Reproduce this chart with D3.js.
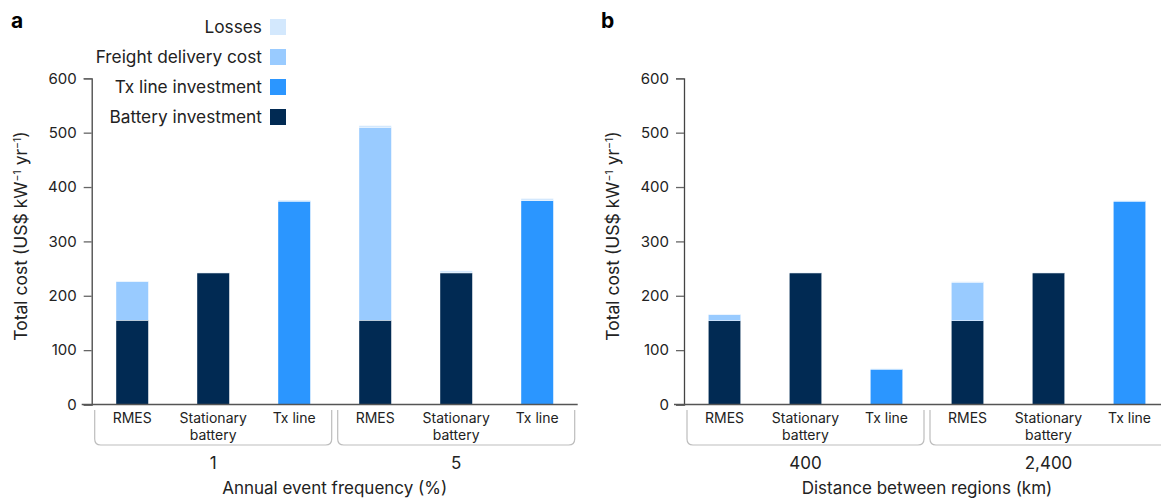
<!DOCTYPE html>
<html><head><meta charset="utf-8">
<script src="https://cdn.jsdelivr.net/npm/d3@7"></script>
<style>
html,body{margin:0;padding:0;background:#fff;}
svg{display:block;font-family:Inter,"Liberation Sans",Arial,sans-serif;}
</style></head>
<body><svg id="c" width="1161" height="499"></svg>
<script>
// ---- data ----
const categories = ["RMES", "Stationary battery", "Tx line"];
const groupsA = ["1", "5"];
const groupsB = ["400", "2,400"];
const seriesKeys = ["battery", "tx", "freight", "losses"];
const seriesNames = ["Battery investment", "Tx line investment", "Freight delivery cost", "Losses"];
const seriesColors = ["#012a53", "#2b96ff", "#99cbff", "#d3e8fd"];
const batteryA = [155, 242, 0, 155, 242, 0];
const txA      = [0, 0, 374, 0, 0, 375];
const freightA = [71, 0, 0, 355, 0, 0];
const lossesA  = [1, 1, 2, 3, 4, 4];
const batteryB = [154, 242, 0, 154, 242, 0];
const txB      = [0, 0, 65, 0, 0, 374];
const freightB = [11, 0, 0, 71, 0, 0];
const lossesB  = [1, 1, 1, 1, 1, 1];
const yTicks = [0, 100, 200, 300, 400, 500, 600];

const FONT = "Inter,'Liberation Sans',Arial,sans-serif";
const svg = d3.select("#c");
const y = d3.scaleLinear().domain([0, 600]).range([404.5, 78.3]);

function rows(groups, bat, tx, fr, lo) {
  const out = [];
  groups.forEach((g, gi) => categories.forEach((c, ci) => {
    const i = gi * 3 + ci;
    out.push({id: g + "|" + c, group: g, cat: c, battery: bat[i], tx: tx[i], freight: fr[i], losses: lo[i]});
  }));
  return out;
}

function panel(x0, groups, data, xTitle, letter, letterX) {
  const g = svg.append("g");
  const x = d3.scaleBand().domain(data.map(d => d.id)).range([x0, x0 + 486]).paddingInner(0.6).paddingOuter(0.3);
  const stack = d3.stack().keys(seriesKeys)(data);
  stack.forEach((s, si) => {
    g.append("g").selectAll("rect").data(s).join("rect")
      .attr("x", d => x(d.data.id))
      .attr("width", x.bandwidth())
      .attr("y", d => y(d[1]))
      .attr("height", d => Math.max(0, y(d[0]) - y(d[1])))
      .attr("fill", seriesColors[si])
      .attr("stroke", d => (d[1] - d[0]) > 0 ? "#ffffff" : "none")
      .attr("stroke-width", 0.4);
  });
  // y axis
  const ya = g.append("g").attr("transform", `translate(${x0},0)`)
    .call(d3.axisLeft(y).tickValues(yTicks).tickSize(8).tickPadding(7));
  ya.select(".domain").attr("stroke", "#444").attr("stroke-width", 1.3);
  ya.selectAll(".tick line").attr("stroke", "#666").attr("stroke-width", 1.3);
  ya.selectAll(".tick text").attr("font-size", 15).attr("fill", "#222").attr("font-family", FONT);
  // x axis line
  g.append("line").attr("x1", x0 - 10).attr("x2", x0 + 486).attr("y1", 404.5).attr("y2", 404.5)
    .attr("stroke", "#555").attr("stroke-width", 1.5);
  // category labels
  data.forEach(d => {
    const cx = x(d.id) + x.bandwidth() / 2;
    const words = d.cat === "Stationary battery" ? ["Stationary", "battery"] : [d.cat];
    const t = g.append("text").attr("text-anchor", "middle").attr("font-size", 14).attr("fill", "#222");
    words.forEach((w, i) => t.append("tspan").attr("x", cx).attr("y", 423 + i * 16.5).text(w));
  });
  // group brackets + labels
  groups.forEach((grp, gi) => {
    const l = x0 + gi * 243 + 3, r = x0 + (gi + 1) * 243 - 3, top = 410, bot = 445, rad = 6;
    g.append("path")
      .attr("d", `M${l},${top} L${l},${bot - rad} Q${l},${bot} ${l + rad},${bot} L${r - rad},${bot} Q${r},${bot} ${r},${bot - rad} L${r},${top}`)
      .attr("fill", "none").attr("stroke", "#bdbdbd").attr("stroke-width", 1.2);
    g.append("text").attr("x", (l + r) / 2).attr("y", 469).attr("text-anchor", "middle")
      .attr("font-size", 17).attr("fill", "#222").text(grp);
  });
  g.append("text").attr("x", x0 + 243).attr("y", 494).attr("text-anchor", "middle")
    .attr("font-size", 17).attr("fill", "#222").text(xTitle);
  // y title
  const yt = g.append("text").attr("transform", `translate(${x0 - 65},236) rotate(-90)`)
    .attr("text-anchor", "middle").attr("font-size", 17.5).attr("fill", "#222");
  yt.append("tspan").text("Total cost (US$ kW");
  yt.append("tspan").attr("baseline-shift", "super").attr("font-size", 10.5).text("\u22121");
  yt.append("tspan").text(" yr");
  yt.append("tspan").attr("baseline-shift", "super").attr("font-size", 10.5).text("\u22121");
  yt.append("tspan").text(")");
  // panel letter
  g.append("text").attr("x", letterX).attr("y", 28).attr("font-size", 21).attr("font-weight", "bold")
    .attr("fill", "#000").text(letter);
}

panel(91.7, groupsA, rows(groupsA, batteryA, txA, freightA, lossesA), "Annual event frequency (%)", "a", 11);
panel(684, groupsB, rows(groupsB, batteryB, txB, freightB, lossesB), "Distance between regions (km)", "b", 601);

// legend (top to bottom: Losses, Freight, Tx, Battery)
const legOrder = [3, 2, 1, 0];
const leg = svg.append("g");
legOrder.forEach((si, i) => {
  const cy = 27 + i * 30;
  leg.append("rect").attr("x", 270).attr("y", cy - 8).attr("width", 16).attr("height", 16).attr("fill", seriesColors[si]);
  leg.append("text").attr("x", 262).attr("y", cy + 6).attr("text-anchor", "end")
    .attr("font-size", 17.3).attr("fill", "#222").text(seriesNames[si]);
});
</script></body></html>
